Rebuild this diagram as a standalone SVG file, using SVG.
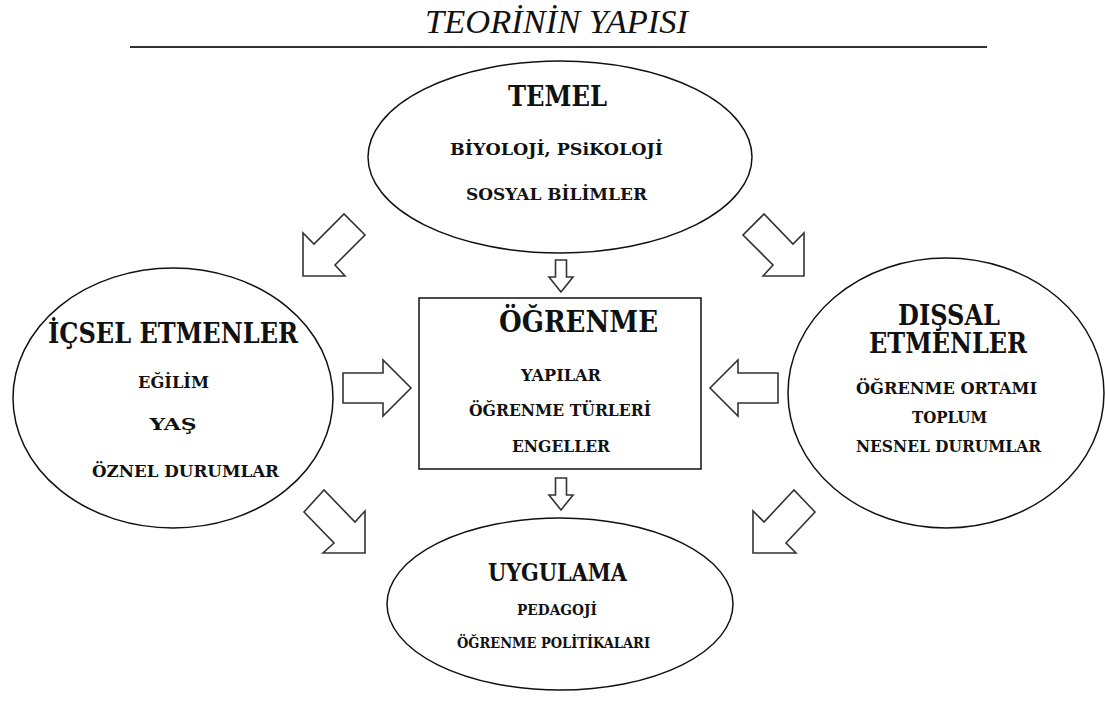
<svg xmlns="http://www.w3.org/2000/svg" width="1105" height="701" viewBox="0 0 1105 701">
<style>
.shape{fill:#fff;stroke:#111;stroke-width:1.5}
.arrow{fill:#fff;stroke:#333;stroke-width:1.6;stroke-linejoin:miter}
.t{font-family:"DejaVu Serif","Liberation Serif",serif;font-weight:bold;fill:#111;text-anchor:middle}
.h{font-size:27px}
.s{font-size:17.5px}
.xs{font-size:15px}
.title{font-family:"Liberation Serif","DejaVu Serif",serif;font-style:italic;font-size:33px;fill:#111;text-anchor:middle}
</style>
<rect width="1105" height="701" fill="#fff"/>
<g id="title">
<text class="title" x="556.5" y="33" textLength="263" lengthAdjust="spacingAndGlyphs">TEORİNİN YAPISI</text>
<line x1="130" y1="47" x2="987" y2="47" stroke="#333" stroke-width="2"/>
</g>
<g id="connectors">
<polygon class="arrow" points="303,276 303,233 314,244 344,214 365,235 335,265 345,276"/>
<polygon class="arrow" points="804,276 804,233 793,244 764,214 743,235 773,265 763,276"/>
<polygon class="arrow" points="555.5,260 566.5,260 566.5,277 573,277 561,292 549,277 555.5,277"/>
<polygon class="arrow" points="343,373 383,373 383,360 411,388 383,416 383,403 343,403"/>
<polygon class="arrow" points="778,373 738,373 738,360 710,388 738,416 738,403 778,403"/>
<polygon class="arrow" points="555.5,478 566.5,478 566.5,495 573,495 561,510 549,495 555.5,495"/>
<polygon class="arrow" points="365,553 365,511 355,522 324,490 304,512 334,543 323,553"/>
<polygon class="arrow" points="753,553 753,511 764,522 794,490 815,512 786,543 796,553"/>
</g>
<g id="temel">
<ellipse class="shape" cx="560" cy="157" rx="192" ry="96"/>
<text class="t h" x="557.5" y="106" textLength="99" lengthAdjust="spacingAndGlyphs">TEMEL</text>
<text class="t s" x="556.5" y="155" textLength="213" lengthAdjust="spacingAndGlyphs">BİYOLOJİ, PSiKOLOJİ</text>
<text class="t s" x="556.5" y="200" textLength="181" lengthAdjust="spacingAndGlyphs">SOSYAL BİLİMLER</text>
</g>
<g id="ogrenme">
<rect class="shape" x="419" y="298" width="282" height="171"/>
<text class="t" style="font-size:29px" x="578.5" y="332" textLength="159" lengthAdjust="spacingAndGlyphs">ÖĞRENME</text>
<text class="t s" x="561" y="381" textLength="80" lengthAdjust="spacingAndGlyphs">YAPILAR</text>
<text class="t s" x="560" y="416" textLength="182" lengthAdjust="spacingAndGlyphs">ÖĞRENME TÜRLERİ</text>
<text class="t s" x="561" y="452" textLength="98" lengthAdjust="spacingAndGlyphs">ENGELLER</text>
</g>
<g id="icsel">
<ellipse class="shape" cx="173" cy="398" rx="160" ry="130"/>
<text class="t h" x="173" y="343" textLength="250" lengthAdjust="spacingAndGlyphs">İÇSEL ETMENLER</text>
<text class="t s" x="173.5" y="388" textLength="71" lengthAdjust="spacingAndGlyphs">EĞİLİM</text>
<text class="t s" x="173" y="430" textLength="47" lengthAdjust="spacingAndGlyphs">YAŞ</text>
<text class="t s" x="185.5" y="477" textLength="187" lengthAdjust="spacingAndGlyphs">ÖZNEL DURUMLAR</text>
</g>
<g id="dissal">
<ellipse class="shape" cx="946" cy="393" rx="158" ry="135"/>
<text class="t h" x="949" y="325" textLength="102" lengthAdjust="spacingAndGlyphs">DIŞSAL</text>
<text class="t h" x="948" y="353" textLength="158" lengthAdjust="spacingAndGlyphs">ETMENLER</text>
<text class="t s" x="946.5" y="394" textLength="181" lengthAdjust="spacingAndGlyphs">ÖĞRENME ORTAMI</text>
<text class="t s" x="949.5" y="423" textLength="75" lengthAdjust="spacingAndGlyphs">TOPLUM</text>
<text class="t s" x="948.5" y="452" textLength="185" lengthAdjust="spacingAndGlyphs">NESNEL DURUMLAR</text>
</g>
<g id="uygulama">
<ellipse class="shape" cx="560" cy="604" rx="173" ry="86"/>
<text class="t" style="font-size:25px" x="557.5" y="581" textLength="139" lengthAdjust="spacingAndGlyphs">UYGULAMA</text>
<text class="t xs" x="557" y="615" textLength="80" lengthAdjust="spacingAndGlyphs">PEDAGOJİ</text>
<text class="t xs" x="553.5" y="648" textLength="193" lengthAdjust="spacingAndGlyphs">ÖĞRENME POLİTİKALARI</text>
</g>
</svg>
